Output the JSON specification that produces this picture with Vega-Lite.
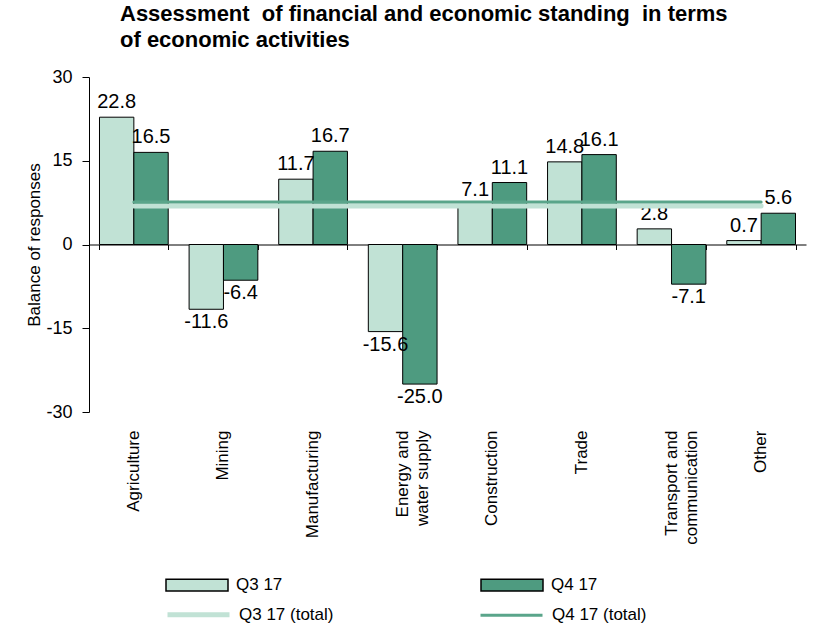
{
  "$schema": "https://vega.github.io/schema/vega-lite/v6.json",
  "autosize": {"type": "none"},
  "width": 717,
  "height": 335,
  "padding": {"left": 89, "top": 77, "right": 8, "bottom": 212},
  "background": "white",
  "title": {
    "text": ["Assessment \u00a0of financial and economic standing \u00a0in terms", "of economic activities"],
    "anchor": "start",
    "frame": "group",
    "dx": 31,
    "offset": 16,
    "font": "Liberation Sans",
    "fontSize": 22,
    "fontWeight": "bold",
    "lineHeight": 26,
    "color": "black"
  },
  "config": {
    "view": {"stroke": null},
    "font": "Liberation Sans",
    "axis": {"labelFont": "Liberation Sans", "titleFont": "Liberation Sans", "labelColor": "black", "titleColor": "black", "grid": false},
    "legend": {"labelFont": "Liberation Sans", "labelFontSize": 17, "labelColor": "black"}
  },
  "datasets": {
    "bars": [
      {"category": "Agriculture", "quarter": "Q3 17", "value": 22.8},
      {"category": "Agriculture", "quarter": "Q4 17", "value": 16.5},
      {"category": "Mining", "quarter": "Q3 17", "value": -11.6},
      {"category": "Mining", "quarter": "Q4 17", "value": -6.4},
      {"category": "Manufacturing", "quarter": "Q3 17", "value": 11.7},
      {"category": "Manufacturing", "quarter": "Q4 17", "value": 16.7},
      {"category": "Energy and water supply", "quarter": "Q3 17", "value": -15.6},
      {"category": "Energy and water supply", "quarter": "Q4 17", "value": -25.0},
      {"category": "Construction", "quarter": "Q3 17", "value": 7.1},
      {"category": "Construction", "quarter": "Q4 17", "value": 11.1},
      {"category": "Trade", "quarter": "Q3 17", "value": 14.8},
      {"category": "Trade", "quarter": "Q4 17", "value": 16.1},
      {"category": "Transport and communication", "quarter": "Q3 17", "value": 2.8},
      {"category": "Transport and communication", "quarter": "Q4 17", "value": -7.1},
      {"category": "Other", "quarter": "Q3 17", "value": 0.7},
      {"category": "Other", "quarter": "Q4 17", "value": 5.6}
    ],
    "totals": [
      {"series": "Q3 17 (total)", "start": "Agriculture", "end": "Other", "total": 6.9},
      {"series": "Q4 17 (total)", "start": "Agriculture", "end": "Other", "total": 7.6}
    ]
  },
  "resolve": {"axis": {"x": "independent"}},
  "layer": [
    {
      "data": {"name": "bars"},
      "mark": {"type": "bar", "stroke": "black", "strokeWidth": 1},
      "encoding": {
        "x": {
          "field": "category", "type": "nominal", "sort": null,
          "scale": {"domain": ["Agriculture", "Mining", "Manufacturing", "Energy and water supply", "Construction", "Trade", "Transport and communication", "Other"], "paddingInner": 0.233, "paddingOuter": 0.117},
          "axis": {"orient": "bottom", "offset": -167.5, "labels": false, "title": null, "domain": true, "domainColor": "black", "domainWidth": 1, "ticks": true, "tickBand": "extent", "tickSize": 5, "tickColor": "black"}
        },
        "xOffset": {"field": "quarter", "type": "nominal", "sort": ["Q3 17", "Q4 17"], "scale": {"paddingInner": 0, "paddingOuter": 0}},
        "y": {
          "field": "value", "type": "quantitative",
          "scale": {"domain": [-30, 30], "nice": false},
          "axis": {"values": [-30, -15, 0, 15, 30], "title": "Balance of responses", "titleFontSize": 17, "titleFontWeight": "normal", "titlePadding": 2, "labelFontSize": 18, "labelPadding": 10, "domainColor": "black", "tickColor": "black", "tickSize": 7,
            "labelExpr": "replace(datum.label, '\u2212', '-')"}
        },
        "fill": {
          "field": "quarter", "type": "nominal",
          "scale": {"domain": ["Q3 17", "Q4 17"], "range": ["#c1e2d5", "#4e9b80"]},
          "legend": {"orient": "none", "legendX": 76, "legendY": 476, "direction": "horizontal", "columns": 2, "columnPadding": 195, "title": null, "symbolType": "M-1,-0.19H1V0.19H-1Z", "symbolSize": 3844, "symbolStrokeColor": "black", "symbolStrokeWidth": 1.5, "labelOffset": 7, "padding": 0}
        }
      }
    },
    {
      "data": {"name": "bars"},
      "transform": [{"filter": "datum.value >= 0"}, {"calculate": "format(datum.value, '.1f')", "as": "label"}],
      "mark": {"type": "text", "baseline": "alphabetic", "dy": -9, "fontSize": 20, "color": "black"},
      "encoding": {
        "x": {"field": "category", "type": "nominal", "sort": null, "axis": null},
        "xOffset": {"field": "quarter", "type": "nominal", "sort": ["Q3 17", "Q4 17"]},
        "y": {"field": "value", "type": "quantitative"},
        "text": {"field": "label", "type": "nominal"}
      }
    },
    {
      "data": {"name": "bars"},
      "transform": [{"filter": "datum.value < 0"}, {"calculate": "replace(format(datum.value, '.1f'), '\u2212', '-')", "as": "label"}],
      "mark": {"type": "text", "baseline": "top", "dy": 3, "fontSize": 20, "color": "black"},
      "encoding": {
        "x": {"field": "category", "type": "nominal", "sort": null, "axis": null},
        "xOffset": {"field": "quarter", "type": "nominal", "sort": ["Q3 17", "Q4 17"]},
        "y": {"field": "value", "type": "quantitative"},
        "text": {"field": "label", "type": "nominal"}
      }
    },
    {
      "data": {"name": "totals"},
      "mark": {"type": "rule", "strokeCap": "round"},
      "encoding": {
        "x": {"field": "start", "type": "nominal", "sort": null, "axis": null},
        "x2": {"field": "end"},
        "y": {"field": "total", "type": "quantitative"},
        "stroke": {
          "field": "series", "type": "nominal",
          "scale": {"domain": ["Q3 17 (total)", "Q4 17 (total)"], "range": ["#c1e2d5", "#5aa58a"]},
          "legend": {"orient": "none", "legendX": 76, "legendY": 504, "direction": "horizontal", "columns": 2, "columnPadding": 140, "title": null, "symbolType": "stroke", "symbolSize": 3844, "labelOffset": 7, "padding": 0}
        },
        "strokeWidth": {
          "field": "series", "type": "nominal",
          "scale": {"domain": ["Q3 17 (total)", "Q4 17 (total)"], "range": [5, 3]},
          "legend": {"orient": "none", "legendX": 76, "legendY": 504, "direction": "horizontal", "columns": 2, "columnPadding": 140, "title": null, "symbolType": "stroke", "symbolSize": 3844, "labelOffset": 7, "padding": 0}
        }
      }
    },
    {
      "data": {"name": "bars"},
      "mark": {"type": "point", "opacity": 0},
      "encoding": {
        "x": {
          "field": "category", "type": "nominal", "sort": null,
          "axis": {"orient": "bottom", "title": null, "domain": false, "ticks": false, "labelAngle": -90, "labelFontSize": 17, "labelPadding": 18, "labelLineHeight": 20,
            "labelExpr": "datum.value == 'Energy and water supply' ? ['Energy and', 'water supply'] : datum.value == 'Transport and communication' ? ['Transport and', 'communication'] : datum.label"}
        },
        "y": {"field": "value", "type": "quantitative"}
      }
    }
  ]
}
